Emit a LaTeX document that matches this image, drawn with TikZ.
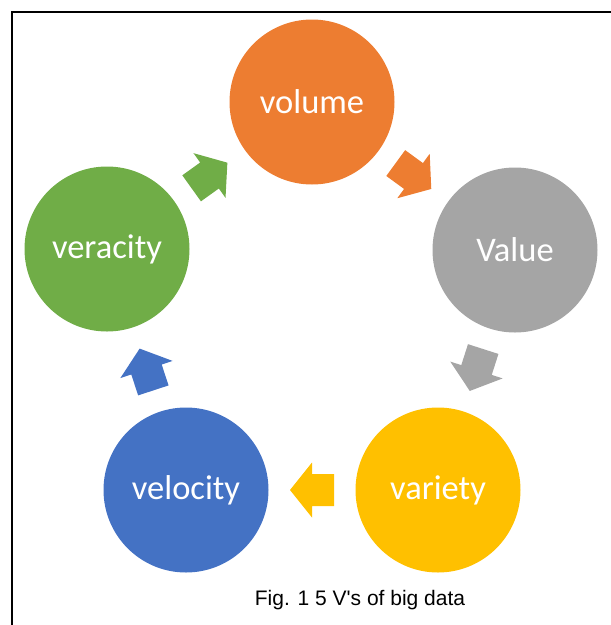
\documentclass[tikz,border=0pt]{standalone}
\usepackage{fontspec}
\setmainfont{Carlito}
\newfontfamily\captionfont{Liberation Sans}
\usetikzlibrary{calc}
\definecolor{vorange}{HTML}{ED7D31}
\definecolor{vgray}{HTML}{A5A5A5}
\definecolor{vgold}{HTML}{FFC000}
\definecolor{vblue}{HTML}{4472C4}
\definecolor{vgreen}{HTML}{70AD47}
\tikzset{
  vcircle/.style={circle, minimum size=165pt, inner sep=0pt, text=white,
    font=\fontsize{34.5}{41}\selectfont},
  blockarrow/.pic={
    \fill[pic actions] (-22,-16) -- (0,-16) -- (0,-27.5) -- (22,0)
      -- (0,27.5) -- (0,16) -- (-22,16) -- cycle;
  },
  framebar/.style={line width=2.5pt, black}
}
\begin{document}
\begin{tikzpicture}[x=1pt, y=-1pt]
\useasboundingbox (0,0) rectangle (611,625);
% open frame: left and top rules
\coordinate (fbl) at (12,625);
\coordinate (ftl) at (12,12);
\coordinate (ftr) at (611,12);
\draw[framebar] (fbl) -- (ftl) -- (ftr);
% the five circles
\node[vcircle, fill=vorange] (vol) at (312,102) {volume};
\node[vcircle, fill=vgray]   (val) at (515,250) {Value};
\node[vcircle, fill=vgold]   (var) at (438,490) {variety};
\node[vcircle, fill=vblue]   (vel) at (186,490) {velocity};
\node[vcircle, fill=vgreen]  (ver) at (107,249) {veracity};
% block arrows between neighbours, clockwise
\path (vol) -- (val) pic[midway, sloped, allow upside down, fill=vorange] {blockarrow};
\path (val) -- (var) pic[midway, sloped, allow upside down, fill=vgray] {blockarrow};
\path (var) -- (vel) pic[midway, sloped, allow upside down, fill=vgold] {blockarrow};
\path (vel) -- (ver) pic[midway, sloped, allow upside down, fill=vblue] {blockarrow};
\path (ver) -- (vol) pic[midway, sloped, allow upside down, fill=vgreen] {blockarrow};
% caption
\node[font=\captionfont\fontsize{21}{25}\selectfont, text=black] (cap) at (360,600) {Fig. 1 5 V's of big data};
\end{tikzpicture}
\end{document}
